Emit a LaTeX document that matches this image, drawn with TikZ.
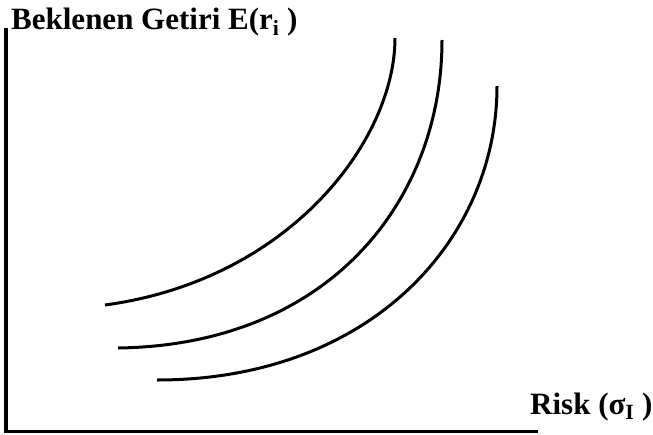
\documentclass[tikz,border=0pt]{standalone}
\usepackage{fontspec}
\setmainfont{Liberation Serif}
\begin{document}
\begin{tikzpicture}[x=1pt,y=-1pt,
  axis/.style={line width=3.5pt,line cap=butt},
  curve/.style={line width=3pt},
  lbl/.style={font=\fontsize{31}{36}\selectfont\bfseries,inner sep=0pt,anchor=base west}]
\useasboundingbox (0,0) rectangle (653,434);
% axes
\coordinate (top) at (6,28);
\coordinate (origin) at (6,431.5);
\coordinate (xend) at (538,431.5);
\draw[axis] (top) -- ([yshift=-1.75pt]origin) ;
\draw[axis] ([xshift=-1.75pt]origin) -- (xend);
% labels
\node[lbl] (ylab) at (11,29) {Beklenen Getiri E(r\textsubscript{i} )};
\node[lbl] (xlab) at (530,414) {Risk (σ\textsubscript{I} )};
% indifference curves
\coordinate (a1) at (105,305); \coordinate (b1) at (395,38);
\coordinate (a2) at (118,348); \coordinate (b2) at (442,40);
\coordinate (a3) at (157,380); \coordinate (b3) at (497,86);
\draw[curve] (a1) .. controls (290,280) and (395,140) .. (b1);
\draw[curve] (a2) .. controls (330,345) and (442,200) .. (b2);
\draw[curve] (a3) .. controls (370,380) and (497,240) .. (b3);
\end{tikzpicture}
\end{document}
